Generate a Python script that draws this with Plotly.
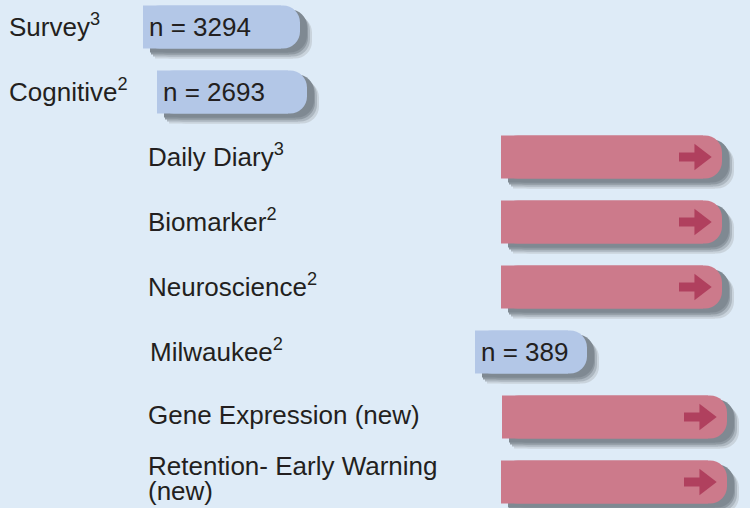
import plotly.graph_objects as go

# ---- data ----
labels = ["Survey<sup>3</sup>", "Cognitive<sup>2</sup>", "Daily Diary<sup>3</sup>",
          "Biomarker<sup>2</sup>", "Neuroscience<sup>2</sup>", "Milwaukee<sup>2</sup>",
          "Gene Expression (new)", "Retention- Early Warning|(new)"]
rows = [0, 1, 2, 3, 4, 5, 6, 7]
label_x = [7, 7, 146, 146, 146, 148, 146, 146]
bar_start = [143, 157, 501, 501, 501, 475, 502, 501]
bar_end = [300, 307, 722, 722, 722, 587, 727, 727]
sample_n = [3294, 2693, None, None, None, 389, None, None]
ongoing = [False, False, True, True, True, False, True, True]

# ---- style ----
BG = "#deebf7"
BLUE = "#b3c7e7"
PINK = "#cc7a8b"
ARROW = "#b0405e"
TEXT = "#231f20"
FONT = "Liberation Sans, Arial, sans-serif"
FS = 26
PX_PER_ROW = 65.0
RAD = 17
BW = 0.66

colors = [PINK if o else BLUE for o in ongoing]
lengths = [e - s for s, e in zip(bar_start, bar_end)]

fig = go.Figure()


def add_bar(dx, dy, color):
    ys = [r + dy / PX_PER_ROW for r in rows]
    # rounded full-length bar
    fig.add_trace(go.Bar(
        orientation="h", y=ys, x=lengths, base=[s + dx for s in bar_start], width=BW,
        marker=dict(color=color, cornerradius=RAD, line=dict(width=0)),
        hoverinfo="skip", showlegend=False,
    ))
    # square left part
    fig.add_trace(go.Bar(
        orientation="h", y=ys, x=[l - RAD - 2 for l in lengths],
        base=[s + dx for s in bar_start], width=BW,
        marker=dict(color=color, line=dict(width=0)),
        hoverinfo="skip", showlegend=False,
    ))


# shadows (layered, opaque, to imitate blur)
for dx, dy, c in [(12, 10, "#c9d3dc"), (10, 8, "#acb6bf"), (8, 6, "#8f99a2"), (7, 4, "#7f8992")]:
    add_bar(dx, dy, c)

# bars
add_bar(0, 0, colors)

# arrows on ongoing bars
sx, sy, hx, hy = [], [], [], []
for r, e, o in zip(rows, bar_end, ongoing):
    if o:
        sx += [e - 43, e - 26, None]
        sy += [r, r, None]
        hx.append(e - 21.8)
        hy.append(r)
fig.add_trace(go.Scatter(x=sx, y=sy, mode="lines", line=dict(color=ARROW, width=9),
                         hoverinfo="skip", showlegend=False))
fig.add_trace(go.Scatter(x=hx, y=hy, mode="markers",
                         marker=dict(symbol="triangle-right", size=23, color=ARROW,
                                     line=dict(width=0)),
                         hoverinfo="skip", showlegend=False))

# row labels
for lab, lx, r in zip(labels, label_x, rows):
    parts = lab.split("|")
    offs = [-0.03] if len(parts) == 1 else [-0.25, 0.14]
    for p, off in zip(parts, offs):
        fig.add_annotation(x=lx, y=r + off, text=p, showarrow=False, xanchor="left",
                           yanchor="middle", font=dict(family=FONT, size=FS, color=TEXT))

# n labels
for n, s, r in zip(sample_n, bar_start, rows):
    if n is not None:
        fig.add_annotation(x=s + 4, y=r, text=f"n = {n}", showarrow=False, xanchor="left",
                           yanchor="middle", font=dict(family=FONT, size=FS, color=TEXT))

fig.update_layout(
    width=750, height=508,
    margin=dict(l=0, r=0, t=0, b=0),
    paper_bgcolor=BG, plot_bgcolor=BG,
    barmode="overlay",
    xaxis=dict(range=[0, 750], visible=False, fixedrange=True),
    yaxis=dict(range=[(508 - 27) / PX_PER_ROW, -27 / PX_PER_ROW], visible=False, fixedrange=True),
)

fig.write_html("out.html", config={"displayModeBar": False},
               post_script="document.body.style.margin='0';document.body.style.overflow='hidden';")
